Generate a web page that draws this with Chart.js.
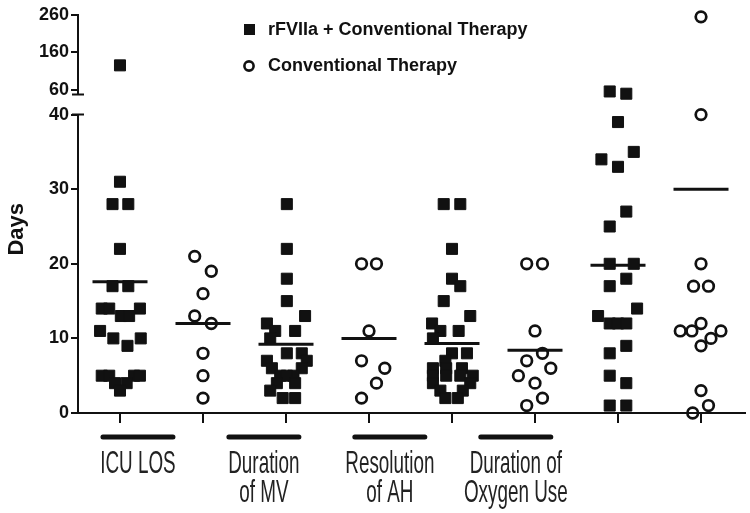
<!DOCTYPE html>
<html>
<head>
<meta charset="utf-8">
<script src="https://cdn.jsdelivr.net/npm/chart.js@4.4.0/dist/chart.umd.min.js"></script>
<style>
  html, body { margin: 0; padding: 0; background: #fff; }
  #wrap { width: 750px; height: 513px; }
</style>
</head>
<body>
<div id="wrap"><canvas id="chart"></canvas></div>
<script>
const groupLabels = [["ICU LOS"], ["Duration", "of MV"], ["Resolution", "of AH"], ["Duration of", "Oxygen Use"]];
const seriesNames = ["rFVIIa + Conventional Therapy", "Conventional Therapy"];

// days per patient for each outcome, plus the sideways spread of each dot (in category widths)
const rfDays = [
  [125, 31, 28, 28, 22, 17, 17, 14, 14, 14, 13, 13, 11, 10, 10, 9, 5, 5, 5, 5, 4, 4, 3],
  [28, 22, 18, 15, 13, 12, 11, 11, 10, 8, 8, 7, 7, 6, 6, 5, 5, 5, 4, 4, 3, 2, 2],
  [28, 28, 22, 18, 17, 15, 13, 12, 11, 11, 10, 8, 8, 7, 6, 6, 6, 5, 5, 5, 5, 4, 4, 3, 3, 2, 2],
  [55, 49, 39, 35, 34, 33, 27, 25, 20, 20, 18, 17, 14, 13, 12, 12, 12, 9, 8, 5, 4, 1, 1]
];
const rfJitter = [
  [0, 0, -0.09, 0.1, 0, -0.09, 0.1, -0.22, -0.13, 0.24, 0.01, 0.11, -0.24, -0.08, 0.25, 0.09, -0.22, -0.13, 0.17, 0.24, -0.06, 0.08, 0],
  [0.01, 0.01, 0.01, 0.01, 0.23, -0.23, -0.13, 0.11, -0.19, 0.01, 0.19, -0.23, 0.25, -0.17, 0.19, -0.07, 0.09, 0.01, -0.11, 0.11, -0.19, -0.04, 0.11],
  [-0.1, 0.1, 0, 0, 0.1, -0.1, 0.22, -0.24, -0.14, 0.08, -0.23, 0, 0.18, -0.08, -0.23, -0.07, 0.12, -0.23, -0.07, 0.1, 0.25, -0.23, 0.22, -0.14, 0.13, -0.08, 0.07],
  [-0.1, 0.1, 0, 0.19, -0.2, 0, 0.1, -0.1, -0.1, 0.19, 0.1, -0.1, 0.23, -0.24, -0.1, 0, 0.1, 0.1, -0.1, -0.1, 0.1, -0.1, 0.1]
];
const convDays = [
  [21, 19, 16, 13, 12, 8, 5, 2],
  [20, 20, 11, 7, 6, 4, 2],
  [20, 20, 11, 8, 7, 6, 5, 4, 2, 1],
  [255, 40, 20, 17, 17, 12, 11, 11, 11, 10, 9, 3, 1, 0]
];
const convJitter = [
  [-0.1, 0.1, 0, -0.1, 0.1, 0, 0, 0],
  [-0.09, 0.09, 0, -0.09, 0.19, 0.09, -0.09],
  [-0.1, 0.09, 0, 0.09, -0.1, 0.19, -0.2, 0, 0.09, -0.1],
  [0, 0, 0, -0.09, 0.09, 0, -0.25, -0.11, 0.24, 0.12, 0, 0, 0.09, -0.1]
];
const rfMeans = [17.6, 9.2, 9.3, 19.8];
const convMeans = [12, 10, 8.4, 30];
const lowTicks = [0, 10, 20, 30, 40];
const highTicks = [60, 160, 260];

// broken y axis: 0-40 at full size, 47-260 squeezed on top
const LOW_MAX = 40, HIGH_MIN = 47, GAP = 2.7, SQUEEZE = 0.05;
const toAxis = v => v > LOW_MAX ? LOW_MAX + GAP + (v - HIGH_MIN) * SQUEEZE : v;
const fromAxis = a => a > LOW_MAX + 1 ? HIGH_MIN + (a - LOW_MAX - GAP) / SQUEEZE : a;

const INK = "#111";

function dots(days, jitter, side) {
  const pts = [];
  days.forEach((arr, g) => {
    arr.forEach((v, i) => pts.push({ x: 2 * g + side + jitter[g][i], y: toAxis(v) }));
  });
  return pts;
}

const meanPts = [];
rfMeans.forEach((m, g) => meanPts.push({ x: 2 * g, y: toAxis(m) }));
convMeans.forEach((m, g) => meanPts.push({ x: 2 * g + 1, y: toAxis(m) }));

// fixed axis boxes, no extra room for label overflow
function fixBox(w, h) {
  return s => {
    if (w !== null) s.width = w;
    if (h !== null) s.height = h;
    s.paddingTop = 0; s.paddingBottom = 0; s.paddingLeft = 0; s.paddingRight = 0;
  };
}

const brokenAxis = {
  id: "brokenAxis",
  afterDraw(chart) {
    const ctx = chart.ctx, y = chart.scales.y;
    const ax = chart.chartArea.left;
    const bottom = y.getPixelForValue(0);
    const lowTop = y.getPixelForValue(LOW_MAX);
    const highBot = y.getPixelForValue(LOW_MAX + GAP);
    const top = y.getPixelForValue(toAxis(highTicks[highTicks.length - 1]));
    ctx.save();
    ctx.strokeStyle = INK;
    ctx.lineWidth = 2;
    ctx.beginPath();
    ctx.moveTo(ax, bottom + 1); ctx.lineTo(ax, lowTop);
    ctx.moveTo(ax, highBot); ctx.lineTo(ax, top - 1);
    ctx.moveTo(ax - 6, lowTop); ctx.lineTo(ax + 6, lowTop);
    ctx.moveTo(ax - 6, highBot); ctx.lineTo(ax + 6, highBot);
    ctx.stroke();
    ctx.restore();
  }
};

const groupAxis = {
  id: "groupAxis",
  afterDraw(chart) {
    const ctx = chart.ctx, s = chart.scales.x2;
    ctx.save();
    groupLabels.forEach((lines, i) => {
      const c = s.getPixelForValue(i);
      ctx.strokeStyle = INK;
      ctx.lineWidth = 5;
      ctx.lineCap = "round";
      ctx.beginPath();
      ctx.moveTo(c - 35, 437); ctx.lineTo(c + 35, 437);
      ctx.stroke();
      ctx.fillStyle = "#222";
      ctx.font = '23px "Liberation Sans", Arial, sans-serif';
      ctx.textAlign = "center";
      ctx.textBaseline = "alphabetic";
      lines.forEach((t, k) => {
        ctx.save();
        ctx.translate(c, 473 + k * 29);
        ctx.scale(0.82, 1.33);
        ctx.fillText(t, 0, 0);
        ctx.restore();
      });
    });
    ctx.restore();
  }
};

const sideLegend = {
  id: "sideLegend",
  afterDraw(chart) {
    const ctx = chart.ctx;
    ctx.save();
    ctx.fillStyle = INK;
    ctx.fillRect(244, 24, 11, 11);
    ctx.strokeStyle = INK;
    ctx.lineWidth = 2.6;
    ctx.beginPath();
    ctx.arc(249, 66, 4.6, 0, Math.PI * 2);
    ctx.stroke();
    ctx.font = 'bold 18px "Liberation Sans", Arial, sans-serif';
    ctx.textBaseline = "middle";
    ctx.fillText(seriesNames[0], 268, 30);
    ctx.fillText(seriesNames[1], 268, 66);
    ctx.restore();
  }
};

new Chart(document.getElementById("chart"), {
  type: "scatter",
  data: {
    datasets: [
      {
        label: seriesNames[0],
        data: dots(rfDays, rfJitter, 0),
        pointStyle: "rect",
        radius: 7.8,
        backgroundColor: INK,
        borderColor: INK,
        borderWidth: 1,
        clip: false
      },
      {
        label: seriesNames[1],
        data: dots(convDays, convJitter, 1),
        pointStyle: "circle",
        radius: 5.3,
        backgroundColor: "rgba(0,0,0,0)",
        borderColor: INK,
        borderWidth: 2.7,
        clip: false
      },
      {
        label: "Mean",
        data: meanPts,
        pointStyle: "line",
        radius: 27.5,
        borderColor: INK,
        borderWidth: 3,
        clip: false
      }
    ]
  },
  options: {
    responsive: true,
    maintainAspectRatio: false,
    animation: false,
    events: [],
    layout: { autoPadding: false, padding: { top: 15, right: 5, left: 0, bottom: 0 } },
    plugins: { legend: { display: false }, tooltip: { enabled: false } },
    scales: {
      x: {
        type: "linear",
        position: "bottom",
        min: -0.506,
        max: 7.53,
        afterBuildTicks: s => { s.ticks = [0, 1, 2, 3, 4, 5, 6, 7].map(v => ({ value: v })); },
        afterFit: fixBox(null, 14),
        ticks: { display: false },
        grid: { drawOnChartArea: false, drawTicks: true, tickLength: 10, color: INK, lineWidth: 2 },
        border: { display: true, color: INK, width: 2 }
      },
      x2: {
        type: "linear",
        position: "bottom",
        min: -0.476,
        max: 4.82,
        afterBuildTicks: s => { s.ticks = groupLabels.map((l, i) => ({ value: i })); },
        afterFit: fixBox(null, 86),
        ticks: { display: false },
        grid: { display: false },
        border: { display: false }
      },
      y: {
        type: "linear",
        min: 0,
        max: toAxis(highTicks[highTicks.length - 1]),
        afterBuildTicks: s => {
          s.ticks = lowTicks.concat(highTicks.map(toAxis)).map(v => ({ value: v }));
        },
        afterFit: fixBox(78, null),
        ticks: {
          color: INK,
          padding: 2,
          font: { family: '"Liberation Sans", Arial, sans-serif', size: 18, weight: "bold" },
          callback: v => String(Math.round(fromAxis(v)))
        },
        grid: { drawOnChartArea: false, drawTicks: true, tickLength: 7, color: INK, lineWidth: 2 },
        border: { display: false },
        title: {
          display: true,
          // trailing spaces nudge the rotated word down to sit beside the lower segment
          text: "Days     ",
          color: INK,
          padding: { top: 4, bottom: 4 },
          font: { family: '"Liberation Sans", Arial, sans-serif', size: 22, weight: "bold" }
        }
      }
    }
  },
  plugins: [brokenAxis, groupAxis, sideLegend]
});
</script>
</body>
</html>
